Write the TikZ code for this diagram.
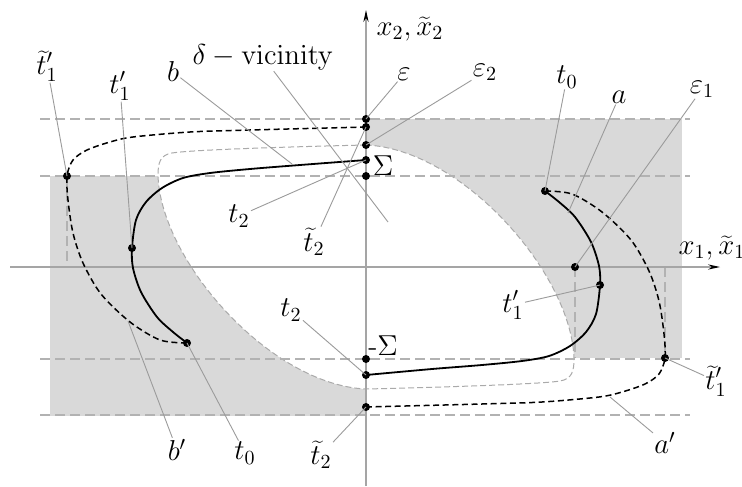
\documentclass[tikz,border=0pt]{standalone}
\usetikzlibrary{arrows.meta}
\definecolor{shadec}{RGB}{217,217,217}
\definecolor{leadc}{RGB}{155,155,155}
\definecolor{axc}{RGB}{165,165,165}
\definecolor{guidec}{RGB}{178,178,178}
\definecolor{ovalc}{RGB}{170,170,170}
\begin{document}
\begin{tikzpicture}[x=0.5pt,y=-0.5pt,
  font=\fontsize{14}{16}\selectfont,
  dot/.style={circle,fill=black,inner sep=0pt,minimum size=4pt},
  leader/.style={draw=leadc,line width=0.45pt},
  guide/.style={draw=guidec,line width=0.55pt,dash pattern=on 5pt off 2.5pt},
  ovalline/.style={draw=ovalc,line width=0.5pt,dash pattern=on 3pt off 1.5pt},
  axisline/.style={draw=axc,line width=0.55pt,-{Stealth[length=6pt,width=2.6pt,color=black]}},
  traj/.style={line width=0.9pt},
  trajd/.style={line width=0.75pt,dash pattern=on 3pt off 1.8pt},
  lab/.style={inner sep=0.5pt}]
\useasboundingbox (0,0) rectangle (742,486);

% shaded zones and delta-vicinity
\def\ovalpath{(366,145) .. controls (280,147) and (190,150) .. (172,153)
  .. controls (160,155) and (158,163) .. (158,175)
  .. controls (160,260) and (270,385) .. (366,389)
  .. controls (452,387) and (542,384) .. (560,381)
  .. controls (572,379) and (574,371) .. (574,359)
  .. controls (572,274) and (462,149) .. (366,145) -- cycle}
\fill[shadec] (366,119) rectangle (682,358);
\fill[shadec] (50,176) rectangle (366,416);
\fill[white] \ovalpath;
\draw[ovalline] \ovalpath;

% guide lines
\draw[guide] (40,119) -- (690,119);
\draw[guide] (40,176) -- (690,176);
\draw[guide] (40,359) -- (690,359);
\draw[guide] (40,415) -- (690,415);

% points
\coordinate (e) at (366,119);
\coordinate (tt2u) at (366,127);
\coordinate (e2) at (366,145);
\coordinate (sig) at (366,160);
\coordinate (p176) at (366,176);
\coordinate (msig) at (366,359);
\coordinate (t2l) at (366,375);
\coordinate (tt2l) at (366,407);
\coordinate (tt1L) at (67,176);
\coordinate (t1L) at (132,248);
\coordinate (t0L) at (187,343);
\coordinate (t0R) at (545,191);
\coordinate (t1R) at (600,285);
\coordinate (e1) at (575,267);
\coordinate (tt1R) at (665,358);
\coordinate (bpt) at (292,164);
\coordinate (apt) at (568,213);
\coordinate (appt) at (610,397);
\coordinate (bppt) at (128,321);
\coordinate (delpt) at (388,222);
\coordinate (tt1Lax) at (67,267);
\coordinate (e1b) at (575,358);
\coordinate (tt1Rax) at (665,267);

\draw[guide] (tt1L) -- (tt1Lax);
\draw[guide] (e1) -- (e1b);
\draw[guide] (tt1Rax) -- (tt1R);

% axes
\coordinate (xl) at (10,267);
\coordinate (xr) at (720,267);
\coordinate (yb) at (366,486);
\coordinate (yt) at (366,10);
\draw[axisline] (xl) -- (xr);
\draw[axisline] (yb) -- (yt);

% trajectories
\draw[traj] plot[smooth] coordinates {(t0L) (173,332) (157,317) (141,292) (133,268) (t1L) (136,220) (146,202) (162,188) (183,178) (210,173) (250,169) (300,165) (sig)};
\draw[traj] plot[smooth] coordinates {(t0R) (559,202) (575,217) (591,242) (599,266) (t1R) (596,314) (586,332) (570,346) (549,356) (522,361) (482,365) (432,369) (t2l)};
\draw[trajd] plot[smooth] coordinates {(t0L) (160,340) (130,322) (101,294) (83,263) (73,233) (68,200) (tt1L) (73,160) (87,150) (110,142) (133,137) (190,132) (250,130) (tt2u)};
\draw[trajd] plot[smooth] coordinates {(t0R) (572,194) (602,212) (631,240) (649,271) (659,301) (664,334) (tt1R) (659,374) (645,384) (622,392) (599,397) (542,402) (482,404) (tt2l)};

% dots
\foreach \p in {e,tt2u,e2,sig,p176,msig,t2l,tt2l,tt1L,t1L,t0L,t0R,t1R,e1,tt1R}
  \node[dot] (d-\p) at (\p) {};

% labels
\node[lab] (L-tt1L) at (47,66) {$\widetilde{t}_1'$};
\node[lab] (L-t1L) at (120,86) {$t_1'$};
\node[lab] (L-b) at (173,72) {$b$};
\node[lab] (L-del) at (263,57) {$\delta - \mathrm{vicinity}$};
\node[lab] (L-eps) at (404,74) {$\varepsilon$};
\node[lab] (L-e2) at (485,72) {$\varepsilon_2$};
\node[lab] (L-x2) at (410,29) {$x_2,\widetilde{x}_2$};
\node[lab] (L-sig) at (383,166) {$\Sigma$};
\node[lab] (L-t2u) at (239,216) {$t_2$};
\node[lab] (L-tt2u) at (314,242) {$\widetilde{t}_2$};
\node[lab] (L-t0R) at (567,77) {$t_0$};
\node[lab] (L-a) at (619,97) {$a$};
\node[lab] (L-e1) at (702,89) {$\varepsilon_1$};
\node[lab] (L-x1) at (712,248) {$x_1,\widetilde{x}_1$};
\node[lab] (L-t1R) at (513,305) {$t_1'$};
\node[lab] (L-tt1R) at (716,381) {$\widetilde{t}_1'$};
\node[lab] (L-ap) at (665,443) {$a'$};
\node[lab] (L-msig) at (383,346) {-$\Sigma$};
\node[lab] (L-t2l) at (291,310) {$t_2$};
\node[lab] (L-tt2l) at (321,455) {$\widetilde{t}_2$};
\node[lab] (L-t0L) at (245,453) {$t_0$};
\node[lab] (L-bp) at (177,450) {$b'$};

% leaders
\draw[leader] (L-tt1L) -- (tt1L);
\draw[leader] (L-t1L) -- (t1L);
\draw[leader] (L-b) -- (bpt);
\draw[leader] (L-del) -- (delpt);
\draw[leader] (L-eps) -- (e);
\draw[leader] (L-e2) -- (e2);
\draw[leader] (L-t2u) -- (sig);
\draw[leader] (L-tt2u) -- (tt2u);
\draw[leader] (L-t0R) -- (t0R);
\draw[leader] (L-a) -- (apt);
\draw[leader] (L-e1) -- (e1);
\draw[leader] (L-t1R) -- (t1R);
\draw[leader] (L-tt1R) -- (tt1R);
\draw[leader] (L-ap) -- (appt);
\draw[leader] (L-t2l) -- (t2l);
\draw[leader] (L-tt2l) -- (tt2l);
\draw[leader] (L-t0L) -- (t0L);
\draw[leader] (L-bp) -- (bppt);
\end{tikzpicture}
\end{document}
